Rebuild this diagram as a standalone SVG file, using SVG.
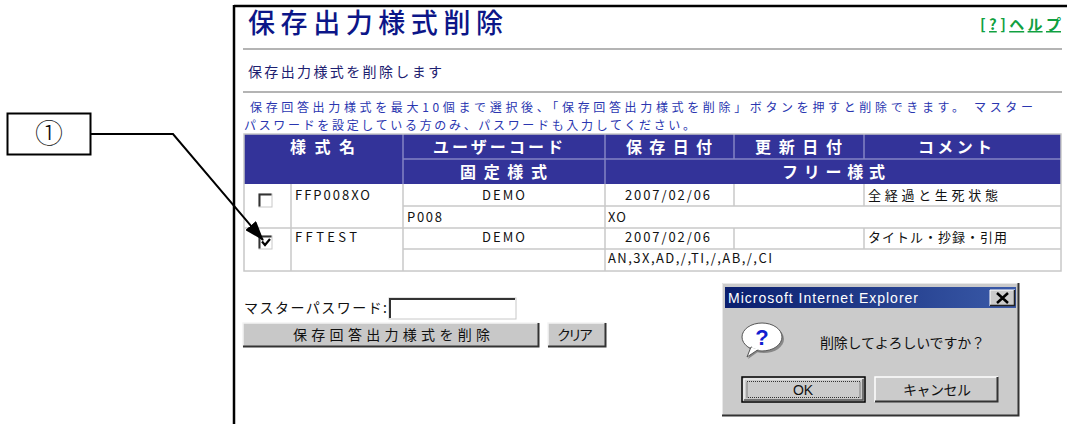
<svg xmlns="http://www.w3.org/2000/svg" width="1067" height="424" viewBox="0 0 1067 424">
<defs>
<style>
.jp{font-family:"Noto Sans CJK JP","Noto Sans",sans-serif;}
.lat{font-family:"Liberation Sans","Noto Sans CJK JP",sans-serif;}
.hd{fill:#ffffff;font-size:16px;font-weight:bold;}
.dt{fill:#111111;font-size:13px;}
.hl{stroke:#8484c4;stroke-width:1.5;}
.gl{stroke:#c8c8c8;stroke-width:1.5;fill:none;}
.rule{stroke:#b4b4b4;stroke-width:2;}
.btn{fill:#c8c8c8;}
</style>
<linearGradient id="tb" x1="0" y1="0" x2="1" y2="0">
<stop offset="0" stop-color="#0a1e6e"/>
<stop offset="1" stop-color="#3a5aa8"/>
</linearGradient>
<marker id="ah" markerUnits="userSpaceOnUse" markerWidth="20" markerHeight="14" refX="19" refY="7" orient="auto">
<path d="M0,0 L20,7 L0,14 Z" fill="#000"/>
</marker>
</defs>
<rect width="1067" height="424" fill="#ffffff"/>

<g id="frame">
<line x1="234" y1="6" x2="1067" y2="6" stroke="#000" stroke-width="2.5"/>
<line x1="234" y1="5" x2="234" y2="424" stroke="#000" stroke-width="2.5"/>
</g>

<g id="title">
<text class="jp" x="248" y="33" font-size="27" font-weight="500" fill="#0c1688" textLength="255" lengthAdjust="spacing">保存出力様式削除</text>
</g>
<g id="help">
<text class="jp" x="980" y="30" font-size="15" font-weight="bold" fill="#10a040" text-decoration="underline" textLength="81" lengthAdjust="spacing">[?]ヘルプ</text>
</g>
<g id="rules">
<line class="rule" x1="243" y1="49" x2="1062" y2="49"/>
<line class="rule" x1="243" y1="92" x2="1062" y2="92"/>
</g>
<g id="subtitle">
<text class="jp" x="248" y="77" font-size="14" fill="#1c2070" textLength="194" lengthAdjust="spacing">保存出力様式を削除します</text>
</g>
<g id="instructions">
<text class="jp" x="250" y="112" font-size="12" fill="#2a36b0" textLength="783" lengthAdjust="spacing">保存回答出力様式を最大10個まで選択後、「保存回答出力様式を削除」ボタンを押すと削除できます。 マスター</text>
<text class="jp" x="244" y="130" font-size="12" fill="#2a36b0" textLength="451" lengthAdjust="spacing">パスワードを設定している方のみ、パスワードも入力してください。</text>
</g>

<g id="table">
<rect x="244" y="134" width="817" height="50" fill="#333399"/>
<rect x="244" y="184" width="817" height="87" fill="#ffffff"/>
<g id="header-lines">
<line class="hl" x1="403" y1="134" x2="403" y2="184"/>
<line class="hl" x1="605" y1="134" x2="605" y2="184"/>
<line class="hl" x1="734" y1="134" x2="734" y2="159"/>
<line class="hl" x1="864" y1="134" x2="864" y2="159"/>
<line class="hl" x1="403" y1="159" x2="1061" y2="159"/>
</g>
<g id="grid">
<rect class="gl" x="244" y="134" width="817" height="137"/>
<line class="gl" x1="291" y1="184" x2="291" y2="271"/>
<line class="gl" x1="403" y1="184" x2="403" y2="271"/>
<line class="gl" x1="605" y1="184" x2="605" y2="271"/>
<line class="gl" x1="734" y1="184" x2="734" y2="206"/>
<line class="gl" x1="864" y1="184" x2="864" y2="206"/>
<line class="gl" x1="734" y1="228" x2="734" y2="249"/>
<line class="gl" x1="864" y1="228" x2="864" y2="249"/>
<line class="gl" x1="403" y1="206" x2="1061" y2="206"/>
<line class="gl" x1="244" y1="228" x2="1061" y2="228"/>
<line class="gl" x1="403" y1="249" x2="1061" y2="249"/>
</g>
<g id="header-text">
<text class="jp hd" x="290" y="153" textLength="65" lengthAdjust="spacing">様式名</text>
<text class="jp hd" x="433" y="153" textLength="130" lengthAdjust="spacing">ユーザーコード</text>
<text class="jp hd" x="626" y="153" textLength="86" lengthAdjust="spacing">保存日付</text>
<text class="jp hd" x="755" y="153" textLength="87" lengthAdjust="spacing">更新日付</text>
<text class="jp hd" x="918" y="153" textLength="74" lengthAdjust="spacing">コメント</text>
<text class="jp hd" x="460" y="178" textLength="87" lengthAdjust="spacing">固定様式</text>
<text class="jp hd" x="782" y="178" textLength="103" lengthAdjust="spacing">フリー様式</text>
</g>
<g id="row1">
<g id="checkbox1">
<rect x="259" y="194" width="13" height="13" fill="#fff" stroke="#c8c8c8" stroke-width="1"/>
<path d="M259.5,206.5 V194.5 H271.5" fill="none" stroke="#333" stroke-width="2"/>
</g>
<text class="jp dt" x="295" y="200" textLength="75" lengthAdjust="spacing">FFP008XO</text>
<text class="jp dt" x="482" y="200" textLength="43" lengthAdjust="spacing">DEMO</text>
<text class="jp dt" x="625" y="200" textLength="85" lengthAdjust="spacing">2007/02/06</text>
<text class="jp dt" x="868" y="200" textLength="130" lengthAdjust="spacing">全経過と生死状態</text>
<text class="jp dt" x="407" y="222" textLength="35" lengthAdjust="spacing">P008</text>
<text class="jp dt" x="608" y="222" textLength="18" lengthAdjust="spacing">XO</text>
</g>
<g id="row2">
<g id="checkbox2">
<rect x="259" y="236" width="13" height="13" fill="#fff" stroke="#c8c8c8" stroke-width="1"/>
<path d="M259.5,248.5 V236.5 H271.5" fill="none" stroke="#333" stroke-width="2"/>
<path d="M262,241.5 L265,245 L270,239" fill="none" stroke="#000" stroke-width="2.2"/>
</g>
<text class="jp dt" x="295" y="242" textLength="62" lengthAdjust="spacing">FFTEST</text>
<text class="jp dt" x="482" y="242" textLength="43" lengthAdjust="spacing">DEMO</text>
<text class="jp dt" x="625" y="242" textLength="85" lengthAdjust="spacing">2007/02/06</text>
<text class="jp dt" x="868" y="242" textLength="139" lengthAdjust="spacing">タイトル・抄録・引用</text>
<text class="jp dt" x="608" y="263" textLength="164" lengthAdjust="spacing">AN,3X,AD,/,TI,/,AB,/,CI</text>
</g>
</g>

<g id="password">
<text class="jp" x="244" y="313" font-size="14" fill="#111" textLength="143" lengthAdjust="spacing">マスターパスワード:</text>
<rect x="389" y="298" width="127" height="21" fill="#fff" stroke="#c8c8c8" stroke-width="1"/>
<path d="M390,318 V299 H515" fill="none" stroke="#333" stroke-width="2"/>
</g>
<g id="delete-button">
<rect class="btn" x="243" y="323" width="296" height="24"/>
<path d="M243,347 V323 H539" fill="none" stroke="#f4f4f4" stroke-width="1.5"/>
<path d="M243,346.5 H538.5 V323" fill="none" stroke="#333" stroke-width="2"/>
<text class="jp" x="293" y="340" font-size="14" fill="#111" textLength="197" lengthAdjust="spacing">保存回答出力様式を削除</text>
</g>
<g id="clear-button">
<rect class="btn" x="548" y="323" width="58" height="24"/>
<path d="M548,347 V323 H606" fill="none" stroke="#f4f4f4" stroke-width="1.5"/>
<path d="M548,346.5 H605.5 V323" fill="none" stroke="#333" stroke-width="2"/>
<text class="jp" x="557" y="340" font-size="14" fill="#111" textLength="36" lengthAdjust="spacing">クリア</text>
</g>

<g id="dialog">
<rect x="722" y="283" width="297" height="133" fill="#cbcbcb"/>
<path d="M722.5,415.5 V283.5 H1018.5" fill="none" stroke="#e8e8e8" stroke-width="1"/>
<path d="M722,415.5 H1018.5 V283" fill="none" stroke="#333" stroke-width="2"/>
<rect x="725" y="287" width="291" height="21" fill="url(#tb)"/>
<text class="lat" x="728" y="302.5" font-size="14" fill="#fff" textLength="190" lengthAdjust="spacing">Microsoft Internet Explorer</text>
<g id="close-btn">
<rect x="990" y="290" width="25" height="16" fill="#cbcbcb"/>
<path d="M990,306 V290 H1015" fill="none" stroke="#fff" stroke-width="1"/>
<path d="M990,305.5 H1014.5 V290" fill="none" stroke="#222" stroke-width="1.5"/>
<path d="M997,293 L1008,303 M1008,293 L997,303" stroke="#000" stroke-width="2.5"/>
</g>
<g id="icon">
<ellipse cx="764" cy="339" rx="20" ry="14" fill="#888"/>
<path d="M752,349 L748,359 L762,349 Z" fill="#888"/>
<ellipse cx="762" cy="337" rx="20" ry="14" fill="#fff" stroke="#555" stroke-width="1"/>
<path d="M751,347 L747,357 L759,349 Z" fill="#fff" stroke="#555" stroke-width="1"/>
<path d="M752,346.5 L759,349" stroke="#fff" stroke-width="2"/>
<text class="lat" x="762" y="345" font-size="22" font-weight="bold" fill="#1020d0" text-anchor="middle">?</text>
</g>
<text class="jp" x="820" y="348" font-size="14" fill="#111" textLength="165" lengthAdjust="spacing">削除してよろしいですか？</text>
<g id="ok-btn">
<rect x="742" y="377" width="123" height="25" fill="#cbcbcb" stroke="#000" stroke-width="1.5"/>
<path d="M744,400 V379 H863" fill="none" stroke="#fff" stroke-width="1"/>
<path d="M744,400 H863 V379" fill="none" stroke="#555" stroke-width="1.5"/>
<rect x="747" y="381.5" width="113" height="16" fill="none" stroke="#333" stroke-width="1" stroke-dasharray="1,1"/>
<text class="lat" x="803" y="395" font-size="14" fill="#111" text-anchor="middle">OK</text>
</g>
<g id="cancel-btn">
<rect x="875" y="377" width="123" height="25" fill="#cbcbcb"/>
<path d="M875,402 V377 H998" fill="none" stroke="#fff" stroke-width="1.5"/>
<path d="M875,401.5 H997.5 V377" fill="none" stroke="#333" stroke-width="2"/>
<text class="jp" x="903" y="395" font-size="14" fill="#111" textLength="68" lengthAdjust="spacing">キャンセル</text>
</g>
</g>

<g id="callout">
<rect x="7.5" y="113.5" width="83" height="41" fill="#fff" stroke="#000" stroke-width="2"/>
<text class="jp" x="49" y="144" font-size="28" font-weight="300" fill="#111" text-anchor="middle">①</text>
</g>

<g id="connectors">
<path d="M91,134 H173 L263,240" fill="none" stroke="#000" stroke-width="2" marker-end="url(#ah)"/>
</g>
</svg>
